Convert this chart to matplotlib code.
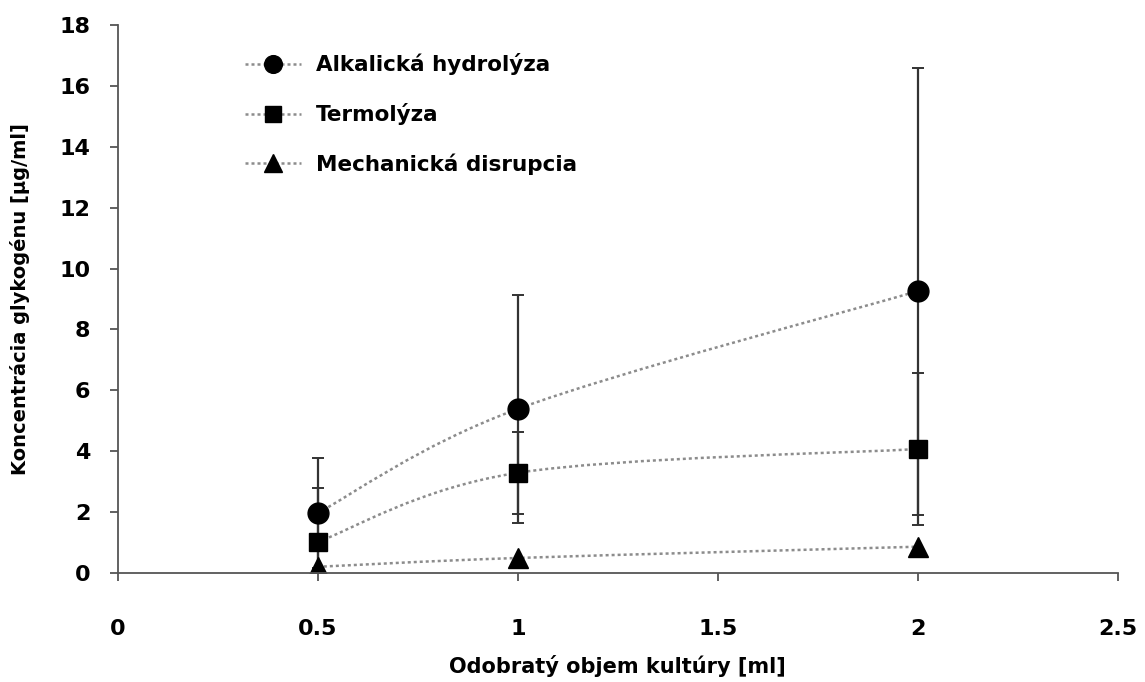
import numpy as np
import matplotlib
matplotlib.use("Agg")
import matplotlib.pyplot as plt
from matplotlib.path import Path
from matplotlib.patches import PathPatch
from matplotlib.lines import Line2D

plt.rcParams['font.family'] = ['DejaVu Sans']
plt.rcParams['font.weight'] = 'bold'

# data
volume = [0.5, 1, 2]
alkal = [1.97, 5.39, 9.26]
alkal_err = [1.8, 3.75, 7.35]
termo = [1.02, 3.29, 4.07]
termo_err = [1.77, 1.34, 2.5]
mech = [0.2, 0.49, 0.86]
mech_err = [0.0, 0.0, 0.0]

labels = ['Alkalická hydrolýza', 'Termolýza', 'Mechanická disrupcia']
markers = ['o', 's', '^']
msizes = [15, 13, 14.5]


def smooth_path(xs, ys):
    # Excel-like smoothed line drawn as bezier segments
    pts = np.column_stack([xs, ys])
    verts = [pts[0]]
    codes = [Path.MOVETO]
    n = len(pts)
    for i in range(n - 1):
        p0 = pts[i - 1] if i > 0 else pts[i]
        p1 = pts[i]
        p2 = pts[i + 1]
        p3 = pts[i + 2] if i + 2 < n else pts[i + 1]
        c1 = p1 + (p2 - p0) / 6
        c2 = p2 - (p3 - p1) / 6
        verts += [c1, c2, p2]
        codes += [Path.CURVE4] * 3
    return Path(verts, codes)


fig = plt.figure(figsize=(11.45, 6.82), dpi=100)
ax = fig.add_axes([0.103, 0.160, 0.873, 0.803])

series = [(alkal, alkal_err), (termo, termo_err), (mech, mech_err)]
handles = []
for (vals, errs), m, ms, lab in zip(series, markers, msizes, labels):
    ax.add_patch(PathPatch(smooth_path(volume, vals), fill=False,
                           edgecolor='#8c8c8c', lw=1.8, ls=(0, (1.2, 1.2)), zorder=2))
    if any(errs):
        ax.errorbar(volume, vals, yerr=errs, fmt='none', ecolor='#333333',
                    elinewidth=1.6, capsize=4, capthick=1.4, zorder=3)
    ax.plot(volume, vals, ls='none', marker=m, ms=ms, color='black', zorder=4)
    handles.append(Line2D([], [], color='#8c8c8c', lw=1.8, ls=(0, (1.2, 1.2)),
                          marker=m, ms=ms * 0.85, mfc='black', mec='black'))

ax.set_xlim(0, 2.5)
ax.set_ylim(0, 18)
ax.set_xticks([0, 0.5, 1, 1.5, 2, 2.5])
ax.set_xticklabels(['0', '0.5', '1', '1.5', '2', '2.5'])
ax.set_yticks(range(0, 19, 2))
ax.tick_params(labelsize=16, length=6, width=1.3, color='#555555', direction='out')
ax.tick_params(axis='x', pad=27)
ax.tick_params(axis='y', pad=14)
for s in ['top', 'right']:
    ax.spines[s].set_visible(False)
for s in ['left', 'bottom']:
    ax.spines[s].set_color('#555555')
    ax.spines[s].set_linewidth(1.3)
ax.spines['bottom'].set_zorder(5)

ax.set_xlabel('Odobratý objem kultúry [ml]', fontsize=15, fontweight='bold', labelpad=12)
ax.set_ylabel('Koncentrácia glykogénu [µg/ml]', fontsize=14, fontweight='bold', labelpad=21)

ax.legend(handles, labels, loc='upper left', bbox_to_anchor=(0.197, 0.950),
          bbox_transform=fig.transFigure, frameon=False,
          handlelength=2.6, labelspacing=1.3, handletextpad=0.7,
          prop={'weight': 'bold', 'size': 15.5})

fig.savefig('out.png', dpi=100, facecolor='white')
